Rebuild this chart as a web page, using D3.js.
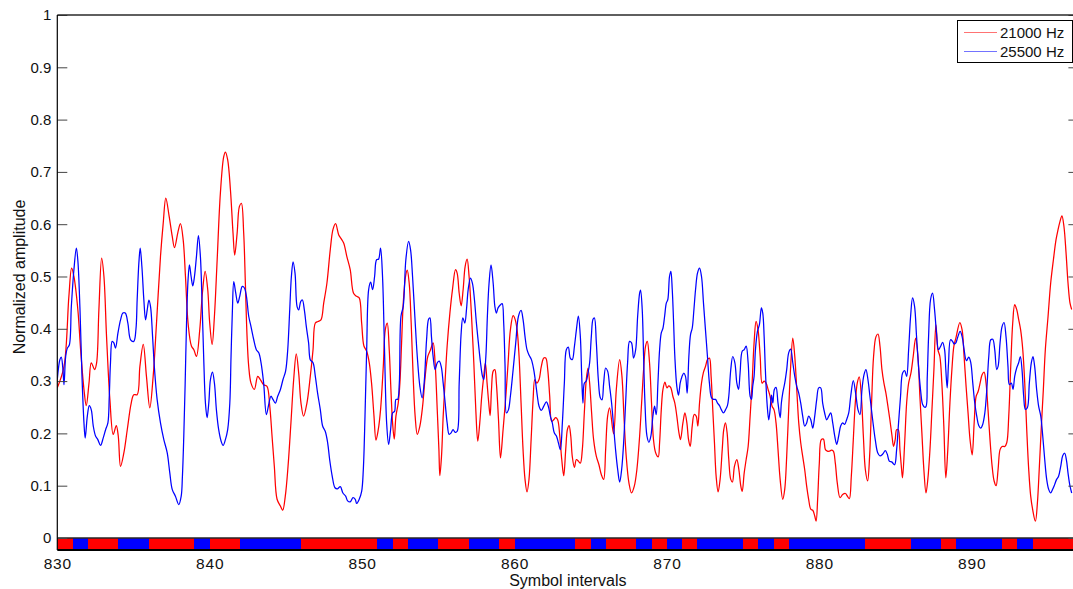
<!DOCTYPE html>
<html>
<head>
<meta charset="utf-8">
<script src="https://cdn.jsdelivr.net/npm/d3@7"></script>
<style>
  html, body { margin: 0; padding: 0; background: #fff; }
  svg { display: block; font-family: "Liberation Sans", Arial, Helvetica, sans-serif; }
</style>
</head>
<body>
<svg id="chart" width="1073" height="589"></svg>
<script>
// Normalized amplitude of the two tone detectors, [symbol interval, amplitude]
const tone21000 = [
[830.00,0.287],[830.44,0.328],[830.76,0.462],[830.94,0.516],[831.09,0.500],[831.35,0.436],[831.53,0.360],[831.75,0.284],[831.90,0.253],[832.08,0.296],[832.23,0.335],[832.45,0.322],[832.58,0.335],[832.73,0.437],[832.91,0.535],[833.06,0.500],[833.23,0.386],[833.45,0.265],[833.67,0.198],[833.87,0.215],[834.00,0.195],[834.15,0.137],[834.37,0.163],[834.59,0.207],[834.85,0.258],[835.02,0.274],[835.24,0.274],[835.42,0.328],[835.64,0.370],[835.85,0.309],[836.07,0.249],[836.29,0.309],[836.51,0.411],[836.77,0.538],[836.95,0.602],[837.12,0.650],[837.34,0.615],[837.54,0.577],[837.69,0.555],[837.91,0.584],[838.08,0.601],[838.26,0.570],[838.41,0.500],[838.58,0.411],[838.80,0.367],[838.96,0.360],[839.13,0.347],[839.35,0.399],[839.52,0.468],[839.70,0.510],[839.87,0.475],[840.00,0.411],[840.16,0.370],[840.31,0.424],[840.49,0.532],[840.70,0.659],[840.92,0.729],[841.03,0.738],[841.18,0.723],[841.36,0.666],[841.53,0.583],[841.64,0.541],[841.80,0.583],[841.95,0.634],[842.08,0.640],[842.23,0.583],[842.34,0.487],[842.45,0.386],[842.56,0.328],[842.71,0.296],[842.93,0.284],[843.15,0.309],[843.32,0.303],[843.54,0.293],[843.76,0.290],[843.94,0.252],[844.09,0.195],[844.24,0.137],[844.42,0.074],[844.64,0.061],[844.79,0.053],[844.96,0.080],[845.14,0.137],[845.33,0.220],[845.51,0.303],[845.68,0.352],[845.84,0.315],[845.99,0.258],[846.16,0.233],[846.38,0.258],[846.60,0.309],[846.78,0.360],[846.93,0.411],[847.10,0.414],[847.30,0.417],[847.48,0.449],[847.69,0.487],[847.91,0.551],[848.09,0.590],[848.26,0.601],[848.46,0.580],[848.61,0.573],[848.79,0.564],[849.00,0.538],[849.22,0.513],[849.44,0.468],
[849.64,0.462],[849.81,0.459],[849.97,0.411],[850.12,0.367],[850.30,0.357],[850.47,0.335],[850.62,0.296],[850.78,0.233],[850.91,0.187],[851.06,0.207],[851.21,0.245],[851.39,0.328],[851.52,0.398],[851.65,0.411],[851.78,0.360],[851.89,0.284],[852.00,0.220],[852.11,0.189],[852.22,0.233],[852.37,0.258],[852.48,0.296],[852.59,0.373],[852.70,0.449],[852.85,0.500],[852.96,0.512],[853.09,0.487],[853.22,0.411],[853.35,0.309],[853.48,0.233],[853.62,0.198],[853.79,0.214],[853.97,0.252],[854.14,0.309],[854.31,0.347],[854.49,0.360],[854.66,0.373],[854.79,0.335],[854.93,0.245],[855.04,0.169],[855.10,0.119],[855.21,0.156],[855.32,0.233],[855.45,0.303],[855.58,0.367],[855.76,0.430],[855.93,0.475],[856.13,0.513],[856.24,0.506],[856.37,0.468],[856.50,0.444],[856.63,0.475],[856.76,0.519],[856.89,0.533],[857.02,0.500],[857.18,0.424],[857.33,0.335],[857.46,0.245],[857.59,0.185],[857.72,0.220],[857.85,0.271],[857.98,0.309],[858.09,0.335],[858.20,0.296],[858.31,0.258],[858.40,0.234],[858.49,0.284],[858.60,0.319],[858.71,0.322],[858.81,0.296],[858.95,0.226],[859.08,0.153],[859.25,0.207],[859.43,0.271],[859.58,0.335],[859.73,0.398],[859.91,0.425],[860.04,0.418],[860.17,0.398],[860.30,0.347],[860.43,0.258],[860.56,0.169],[860.69,0.112],[860.82,0.088],[860.95,0.112],[861.09,0.188],[861.22,0.265],[861.33,0.303],[861.46,0.296],[861.61,0.303],[861.76,0.328],[861.92,0.344],[862.05,0.344],[862.18,0.322],[862.31,0.271],[862.44,0.223],[862.57,0.226],[862.70,0.230],[862.83,0.226],[862.97,0.195],[863.10,0.150],[863.23,0.119],[863.36,0.169],[863.47,0.207],[863.58,0.215],[863.69,0.195],[863.79,0.156],[863.93,0.135],[864.06,0.150],[864.19,0.147],[864.32,0.143],[864.45,0.169],[864.58,0.239],[864.71,0.303],[864.82,0.325],[864.93,0.296],[865.06,0.239],[865.19,0.188],[865.37,0.156],[865.54,0.140],[865.70,0.121],[865.85,0.112],[865.98,0.169],[866.11,0.233],[866.24,0.249],[866.50,0.199],[866.68,0.284],[866.90,0.341],[867.05,0.309],[867.18,0.233],[867.33,0.156],[867.51,0.105],[867.68,0.086],[867.86,0.099],[868.03,0.131],[868.21,0.195],[868.34,0.258],[868.47,0.322],[868.60,0.367],[868.71,0.376],[868.86,0.335],[868.99,0.258],[869.12,0.188],[869.26,0.163],
[869.43,0.155],[869.52,0.182],[869.63,0.245],[869.74,0.284],[869.87,0.298],[870.00,0.287],[870.13,0.291],[870.26,0.287],[870.39,0.271],[870.52,0.258],[870.65,0.233],[870.79,0.201],[870.89,0.188],[871.05,0.220],[871.18,0.239],[871.31,0.220],[871.42,0.188],[871.53,0.175],[871.66,0.214],[871.79,0.236],[871.92,0.233],[872.03,0.214],[872.14,0.258],[872.27,0.296],[872.40,0.317],[872.53,0.328],[872.66,0.341],[872.79,0.344],[872.90,0.309],[873.01,0.245],[873.12,0.182],[873.23,0.118],[873.36,0.088],[873.49,0.112],[873.63,0.169],[873.73,0.207],[873.84,0.220],[873.95,0.201],[874.06,0.150],[874.19,0.112],[874.30,0.107],[874.43,0.137],[874.59,0.150],[874.72,0.131],[874.85,0.099],[874.94,0.089],[875.07,0.124],[875.20,0.150],[875.33,0.175],[875.46,0.233],[875.59,0.296],[875.72,0.373],[875.85,0.414],[875.98,0.398],[876.12,0.347],[876.25,0.296],[876.38,0.300],[876.51,0.296],[876.64,0.284],[876.77,0.271],[876.90,0.252],[877.03,0.245],[877.16,0.220],[877.29,0.169],[877.43,0.112],[877.60,0.074],[877.73,0.093],[877.86,0.156],[877.99,0.245],[878.12,0.328],[878.26,0.382],[878.39,0.347],[878.52,0.284],[878.65,0.220],[878.78,0.182],[878.91,0.156],[879.04,0.131],[879.17,0.099],[879.30,0.074],[879.44,0.055],[879.57,0.053],[879.70,0.042],[879.79,0.032],[879.89,0.074],[880.00,0.143],[880.13,0.188],[880.27,0.189],[880.40,0.169],[880.53,0.166],[880.66,0.166],[880.79,0.168],[880.92,0.166],[881.05,0.143],[881.18,0.105],[881.36,0.077],[881.53,0.083],[881.71,0.085],[881.84,0.080],[881.97,0.075],[882.10,0.118],[882.23,0.188],[882.36,0.258],[882.49,0.296],[882.62,0.308],[882.76,0.271],[882.89,0.195],[883.02,0.131],[883.17,0.109],[883.30,0.156],[883.43,0.258],[883.56,0.347],[883.72,0.385],[883.85,0.390],[883.98,0.367],[884.11,0.322],[884.24,0.296],[884.37,0.277],[884.50,0.252],[884.63,0.226],[884.77,0.195],[884.87,0.175],[884.98,0.188],[885.07,0.207],[885.18,0.207],[885.29,0.169],[885.40,0.131],[885.46,0.115],[885.60,0.182],[885.73,0.258],[885.86,0.296],[886.01,0.315],[886.16,0.347],[886.32,0.382],[886.47,0.347],[886.60,0.271],[886.73,0.201],[886.86,0.131],[887.00,0.086],[887.12,0.112],[887.26,0.169],[887.39,0.245],[887.52,0.322],[887.65,0.408],[887.78,0.360],[887.91,0.347],[888.04,0.296],[888.17,0.214],[888.30,0.115],[888.43,0.169],[888.57,0.258],[888.70,0.322],[888.83,0.367],[888.96,0.382],
[889.22,0.412],[889.37,0.398],[889.50,0.347],[889.63,0.290],[889.76,0.239],[889.89,0.188],[890.03,0.159],[890.16,0.220],[890.29,0.271],[890.42,0.280],[890.55,0.296],[890.68,0.312],[890.81,0.317],[890.94,0.296],[891.07,0.245],[891.20,0.188],[891.34,0.137],[891.47,0.109],[891.60,0.100],[891.73,0.131],[891.86,0.169],[891.99,0.175],[892.17,0.175],[892.30,0.182],[892.43,0.233],[892.56,0.328],[892.69,0.411],[892.82,0.446],[892.95,0.437],[893.08,0.418],[893.21,0.398],[893.35,0.360],[893.48,0.296],[893.61,0.207],[893.74,0.131],[893.87,0.080],[894.00,0.054],[894.18,0.032],[894.31,0.067],[894.44,0.137],[894.57,0.214],[894.70,0.284],[894.83,0.360],[895.01,0.424],[895.18,0.487],[895.36,0.532],[895.53,0.570],[895.66,0.589],[895.79,0.605],[895.92,0.616],[896.05,0.596],[896.19,0.545],[896.32,0.487],[896.45,0.449],[896.56,0.437]
];

const tone25500 = [
[830.00,0.303],[830.17,0.341],[830.26,0.346],[830.37,0.322],[830.44,0.293],[830.55,0.347],[830.66,0.363],[830.79,0.369],[830.92,0.442],[831.09,0.513],[831.25,0.554],[831.35,0.530],[831.49,0.436],[831.62,0.309],[831.75,0.220],[831.83,0.191],[831.97,0.233],[832.10,0.253],[832.23,0.245],[832.36,0.214],[832.51,0.195],[832.66,0.188],[832.84,0.177],[833.01,0.191],[833.17,0.207],[833.32,0.220],[833.41,0.271],[833.49,0.335],[833.60,0.376],[833.71,0.373],[833.82,0.363],[833.98,0.392],[834.15,0.417],[834.30,0.430],[834.46,0.430],[834.63,0.411],[834.81,0.379],[835.02,0.376],[835.16,0.399],[835.24,0.455],[835.35,0.525],[835.44,0.554],[835.55,0.519],[835.68,0.455],[835.79,0.417],[835.90,0.436],[836.01,0.455],[836.12,0.442],[836.25,0.386],[836.38,0.322],[836.55,0.265],[836.77,0.220],[836.99,0.188],[837.21,0.163],[837.38,0.125],[837.54,0.093],[837.75,0.080],[837.97,0.064],[838.13,0.080],[838.21,0.118],[838.30,0.195],[838.39,0.296],[838.48,0.411],[838.58,0.494],[838.67,0.522],[838.78,0.500],[838.89,0.482],[839.00,0.500],[839.13,0.538],[839.26,0.578],[839.39,0.538],[839.50,0.449],[839.61,0.341],[839.72,0.258],[839.83,0.230],[839.94,0.258],[840.05,0.303],[840.18,0.317],[840.31,0.296],[840.44,0.245],[840.59,0.207],[840.75,0.185],[840.88,0.177],[841.03,0.188],[841.18,0.207],[841.32,0.258],[841.40,0.347],[841.49,0.436],[841.58,0.490],[841.71,0.468],[841.84,0.449],[841.97,0.462],[842.14,0.481],[842.28,0.478],[842.41,0.462],[842.56,0.424],[842.71,0.404],[842.89,0.379],[843.06,0.360],[843.22,0.354],[843.37,0.335],[843.54,0.296],[843.72,0.236],[843.89,0.258],[844.02,0.271],[844.15,0.265],[844.31,0.258],[844.46,0.271],[844.64,0.284],[844.81,0.303],[844.98,0.319],[845.12,0.360],[845.25,0.436],[845.36,0.500],[845.47,0.528],[845.60,0.506],[845.73,0.443],[845.84,0.436],[845.97,0.452],[846.08,0.455],[846.21,0.436],[846.34,0.404],[846.49,0.373],[846.60,0.341],[846.78,0.335],[846.93,0.309],[847.08,0.277],[847.26,0.245],[847.41,0.214],[847.58,0.204],[847.74,0.182],[847.87,0.150],[848.04,0.118],[848.22,0.096],[848.37,0.094],[848.57,0.098],[848.74,0.086],[848.92,0.080],[849.05,0.071],[849.22,0.069],[849.40,0.077],[849.55,0.074],
[849.64,0.066],[849.81,0.074],[849.97,0.089],[850.08,0.131],[850.19,0.233],[850.30,0.360],[850.43,0.475],[850.56,0.489],[850.69,0.475],[850.82,0.500],[850.95,0.532],[851.08,0.533],[851.21,0.554],[851.34,0.500],[851.47,0.360],[851.61,0.220],[851.74,0.179],[851.87,0.207],[852.00,0.239],[852.13,0.242],[852.22,0.265],[852.33,0.265],[852.44,0.296],[852.55,0.424],[852.70,0.443],[852.87,0.532],[853.05,0.567],[853.18,0.551],[853.31,0.500],[853.46,0.424],[853.62,0.347],[853.79,0.290],[853.94,0.268],[854.07,0.296],[854.23,0.379],[854.36,0.418],[854.45,0.421],[854.55,0.385],[854.66,0.347],[854.79,0.322],[854.93,0.335],[855.06,0.338],[855.19,0.328],[855.32,0.296],[855.45,0.258],[855.58,0.220],[855.71,0.198],[855.84,0.201],[855.97,0.207],[856.11,0.202],[856.24,0.204],[856.37,0.296],[856.50,0.392],[856.61,0.421],[856.74,0.411],[856.85,0.437],[856.96,0.475],[857.11,0.497],[857.24,0.487],[857.37,0.456],[857.50,0.411],[857.63,0.373],[857.77,0.335],[857.90,0.309],[857.98,0.303],[858.12,0.347],[858.22,0.424],[858.33,0.487],[858.46,0.522],[858.60,0.487],[858.71,0.443],[858.81,0.430],[858.92,0.440],[859.08,0.446],[859.19,0.448],[859.29,0.411],[859.38,0.328],[859.47,0.239],[859.60,0.245],[859.73,0.271],[859.91,0.322],[860.08,0.373],[860.26,0.424],[860.43,0.435],[860.56,0.418],[860.69,0.385],[860.82,0.360],[860.95,0.350],[861.11,0.341],[861.26,0.322],[861.39,0.296],[861.50,0.271],[861.61,0.252],[861.76,0.244],[861.92,0.252],[862.09,0.260],[862.22,0.252],[862.35,0.233],[862.48,0.220],[862.61,0.201],[862.75,0.195],[862.88,0.182],[863.01,0.169],[863.14,0.220],[863.27,0.296],[863.40,0.360],[863.53,0.365],[863.66,0.344],[863.79,0.341],[863.93,0.366],[864.06,0.398],[864.19,0.424],[864.32,0.385],[864.41,0.309],[864.49,0.258],[864.58,0.296],[864.71,0.300],[864.82,0.315],[864.93,0.335],[865.04,0.385],[865.15,0.418],[865.24,0.421],[865.37,0.373],[865.50,0.303],[865.63,0.268],[865.74,0.264],[865.85,0.296],[865.98,0.325],[866.11,0.319],[866.24,0.290],[866.37,0.258],[866.50,0.214],[866.63,0.169],[866.77,0.131],[866.90,0.107],[867.03,0.131],[867.16,0.182],[867.29,0.258],[867.42,0.335],[867.55,0.376],[867.68,0.373],[867.81,0.344],[867.95,0.360],[868.08,0.424],[868.21,0.468],[868.27,0.474],[868.38,0.437],[868.47,0.347],[868.56,0.258],[868.69,0.195],[868.82,0.183],[868.95,0.195],[869.08,0.233],[869.19,0.252],
[869.30,0.236],[869.41,0.296],[869.52,0.360],[869.63,0.392],[869.74,0.401],[869.85,0.424],[869.96,0.449],[870.06,0.456],[870.17,0.500],[870.26,0.510],[870.35,0.475],[870.44,0.411],[870.52,0.347],[870.65,0.290],[870.76,0.273],[870.87,0.296],[870.98,0.308],[871.11,0.315],[871.22,0.309],[871.33,0.277],[871.44,0.347],[871.55,0.389],[871.66,0.401],[871.77,0.436],[871.88,0.475],[872.01,0.507],[872.14,0.516],[872.27,0.500],[872.40,0.449],[872.53,0.398],[872.66,0.347],[872.79,0.296],[872.93,0.268],[873.06,0.265],[873.19,0.265],[873.32,0.258],[873.45,0.253],[873.58,0.245],[873.71,0.239],[873.84,0.245],[873.97,0.253],[874.06,0.271],[874.19,0.322],[874.32,0.347],[874.46,0.335],[874.59,0.296],[874.70,0.284],[874.80,0.315],[874.94,0.357],[875.07,0.360],[875.20,0.367],[875.33,0.335],[875.46,0.271],[875.55,0.265],[875.63,0.290],[875.72,0.309],[875.81,0.360],[875.94,0.395],[876.07,0.408],[876.20,0.440],[876.29,0.430],[876.38,0.385],[876.46,0.322],[876.57,0.258],[876.68,0.226],[876.77,0.245],[876.86,0.273],[876.95,0.258],[877.05,0.284],[877.16,0.288],[877.29,0.258],[877.43,0.230],[877.51,0.258],[877.60,0.277],[877.73,0.296],[877.86,0.322],[877.99,0.354],[878.12,0.361],[878.26,0.335],[878.39,0.309],[878.52,0.290],[878.65,0.277],[878.78,0.258],[878.91,0.233],[879.04,0.214],[879.17,0.220],[879.30,0.233],[879.44,0.226],[879.57,0.210],[879.70,0.233],[879.83,0.265],[879.96,0.287],[880.09,0.287],[880.22,0.258],[880.35,0.239],[880.48,0.226],[880.62,0.233],[880.75,0.239],[880.88,0.220],[881.01,0.195],[881.14,0.179],[881.27,0.195],[881.40,0.214],[881.53,0.220],[881.66,0.217],[881.79,0.226],[881.93,0.239],[882.06,0.271],[882.23,0.301],[882.41,0.271],[882.54,0.245],[882.67,0.236],[882.80,0.284],[882.93,0.312],[883.06,0.322],[883.19,0.303],[883.32,0.271],[883.50,0.226],[883.67,0.188],[883.83,0.163],[883.98,0.157],[884.15,0.160],[884.33,0.167],[884.46,0.160],[884.59,0.147],[884.77,0.145],[884.94,0.140],[885.07,0.168],[885.20,0.220],[885.33,0.271],[885.46,0.315],[885.60,0.320],[885.73,0.309],[885.86,0.360],[885.99,0.424],[886.12,0.459],[886.25,0.443],[886.38,0.385],[886.51,0.328],[886.64,0.284],[886.78,0.255],[886.91,0.250],[887.00,0.251],[887.08,0.305],[887.17,0.385],[887.30,0.456],[887.43,0.468],[887.56,0.437],[887.69,0.392],[887.82,0.360],[887.95,0.366],[888.09,0.374],[888.22,0.360],[888.30,0.322],[888.39,0.287],[888.48,0.335],[888.61,0.379],[888.74,0.376],[888.85,0.371],[888.96,0.373],
[889.06,0.382],[889.24,0.395],[889.37,0.385],[889.50,0.360],[889.65,0.339],[889.81,0.346],[889.94,0.335],[890.07,0.296],[890.20,0.258],[890.33,0.233],[890.46,0.215],[890.59,0.210],[890.72,0.217],[890.86,0.239],[890.99,0.284],[891.12,0.347],[891.25,0.379],[891.38,0.380],[891.51,0.360],[891.64,0.322],[891.73,0.328],[891.86,0.373],[891.99,0.404],[892.12,0.412],[892.25,0.385],[892.38,0.328],[892.47,0.293],[892.60,0.296],[892.71,0.284],[892.82,0.309],[892.95,0.325],[893.08,0.335],[893.19,0.347],[893.30,0.322],[893.41,0.271],[893.52,0.246],[893.65,0.249],[893.78,0.296],[893.91,0.335],[894.02,0.347],[894.13,0.328],[894.26,0.284],[894.39,0.252],[894.53,0.233],[894.66,0.195],[894.79,0.150],[894.92,0.112],[895.05,0.093],[895.18,0.086],[895.31,0.093],[895.44,0.102],[895.57,0.112],[895.70,0.118],[895.84,0.137],[895.97,0.157],[896.10,0.162],[896.21,0.150],[896.32,0.124],[896.45,0.099],[896.56,0.086]
];

// Transmitted tone for each symbol interval, starting at interval 830
const firstSymbol = 830;
const symbolTones = [
  21000,25500,21000,21000,25500,25500,21000,21000,21000,25500,
  21000,21000,25500,25500,25500,25500,21000,21000,21000,21000,
  21000,25500,21000,25500,25500,21000,21000,25500,25500,21000,
  25500,25500,25500,25500,21000,25500,21000,21000,25500,21000,
  25500,21000,25500,25500,25500,21000,25500,21000,25500,25500,
  25500,25500,25500,21000,21000,21000,25500,25500,21000,25500,
  25500,25500,21000,25500,21000,21000,21000
];

const seriesNames = ["21000 Hz", "25500 Hz"];
const seriesColors = { 21000: "#ff0000", 25500: "#0000ff" };
const xTicks = [830, 840, 850, 860, 870, 880, 890];
const yTicks = [0, 0.1, 0.2, 0.3, 0.4, 0.5, 0.6, 0.7, 0.8, 0.9, 1];

const svg = d3.select("#chart");
const plotLeft = 57.3, plotRight = 1078.4, plotTop = 15, plotBottom = 550;

const x = d3.scaleLinear().domain([830, 897]).range([plotLeft, plotRight]);
const y = d3.scaleLinear().domain([-0.023, 1]).range([plotBottom, plotTop]);

svg.append("defs").append("clipPath").attr("id", "plotClip")
  .append("rect").attr("x", plotLeft).attr("y", plotTop)
  .attr("width", plotRight - plotLeft).attr("height", plotBottom - plotTop);

const plot = svg.append("g").attr("clip-path", "url(#plotClip)");

const line = d3.line()
  .x(d => x(d[0]))
  .y(d => y(d[1]))
  .curve(d3.curveCatmullRom.alpha(0.5));

plot.append("path").datum(tone21000)
  .attr("fill", "none").attr("stroke", seriesColors[21000])
  .attr("stroke-width", 1.25).attr("d", line);

plot.append("path").datum(tone25500)
  .attr("fill", "none").attr("stroke", seriesColors[25500])
  .attr("stroke-width", 1.25).attr("d", line);

// Strip of transmitted symbols below zero: consecutive equal tones merged into one run
const runs = [];
symbolTones.forEach((tone, i) => {
  const last = runs[runs.length - 1];
  if (last && last.tone === tone) last.end = firstSymbol + i + 1;
  else runs.push({ tone, start: firstSymbol + i, end: firstSymbol + i + 1 });
});

plot.append("g").attr("shape-rendering", "crispEdges").selectAll("rect")
  .data(runs)
  .join("rect")
  .attr("x", d => x(d.start))
  .attr("width", d => x(d.end) - x(d.start))
  .attr("y", y(0))
  .attr("height", plotBottom - y(0))
  .attr("fill", d => seriesColors[d.tone]);

plot.append("line")
  .attr("x1", plotLeft).attr("x2", plotRight)
  .attr("y1", y(0)).attr("y2", y(0))
  .attr("stroke", "#262626").attr("stroke-width", 1.6);

// Axes
const yAxisLeft = d3.axisLeft(y).tickValues(yTicks).tickSize(-10).tickPadding(6)
  .tickFormat(d3.format("~g"));
const yAxisRight = d3.axisRight(y).tickValues(yTicks).tickSize(-10).tickFormat("");

const gl = svg.append("g").attr("transform", `translate(${plotLeft},0)`).call(yAxisLeft);
gl.select(".domain").remove();
gl.selectAll(".tick line").attr("stroke", "#444");
gl.selectAll(".tick text").attr("font-size", 15).attr("fill", "#111")
  .attr("font-family", "Liberation Sans, Arial, sans-serif");

const gr = svg.append("g").attr("transform", `translate(${plotRight},0)`).call(yAxisRight);
gr.select(".domain").remove();
gr.selectAll(".tick line").attr("stroke", "#444");

const gx = svg.append("g").attr("transform", `translate(0,${plotBottom})`)
  .call(d3.axisBottom(x).tickValues(xTicks).tickSize(0).tickPadding(8).tickFormat(d3.format("d")));
gx.select(".domain").remove();
gx.selectAll(".tick text").attr("font-size", 15.5).attr("fill", "#111")
  .attr("letter-spacing", "0.8px")
  .attr("font-family", "Liberation Sans, Arial, sans-serif");

// Frame
svg.append("line").attr("x1", plotLeft).attr("x2", plotRight).attr("y1", plotTop).attr("y2", plotTop)
  .attr("stroke", "#2a2a2a").attr("stroke-width", 1.6);
svg.append("line").attr("x1", plotLeft).attr("x2", plotRight).attr("y1", plotBottom).attr("y2", plotBottom)
  .attr("stroke", "#000").attr("stroke-width", 2);
svg.append("line").attr("x1", plotLeft).attr("x2", plotLeft).attr("y1", plotTop).attr("y2", plotBottom)
  .attr("stroke", "#000").attr("stroke-width", 1.2);
svg.append("line").attr("x1", plotRight).attr("x2", plotRight).attr("y1", plotTop).attr("y2", plotBottom)
  .attr("stroke", "#000").attr("stroke-width", 1.2);

// Axis labels
svg.append("text").attr("x", (plotLeft + plotRight) / 2).attr("y", 585.5)
  .attr("text-anchor", "middle").attr("font-size", 16).attr("fill", "#111")
  .text("Symbol intervals");
svg.append("text").attr("transform", "translate(25,277) rotate(-90)")
  .attr("text-anchor", "middle").attr("font-size", 16).attr("fill", "#111")
  .text("Normalized amplitude");

// Legend
const legend = svg.append("g");
legend.append("rect").attr("x", 957.5).attr("y", 20.5).attr("width", 115).attr("height", 42)
  .attr("fill", "#fff").attr("stroke", "#000").attr("stroke-width", 1);
const legendRows = [
  { name: seriesNames[0], color: seriesColors[21000], ly: 32.5, ty: 37.7 },
  { name: seriesNames[1], color: seriesColors[25500], ly: 51.5, ty: 57 }
];
legendRows.forEach(r => {
  legend.append("line").attr("x1", 964).attr("x2", 997).attr("y1", r.ly).attr("y2", r.ly)
    .attr("stroke", r.color).attr("stroke-width", 1.2).attr("stroke-opacity", 0.55);
  legend.append("text").attr("x", 1000).attr("y", r.ty).attr("font-size", 15)
    .attr("fill", "#111").text(r.name);
});
</script>
</body>
</html>
